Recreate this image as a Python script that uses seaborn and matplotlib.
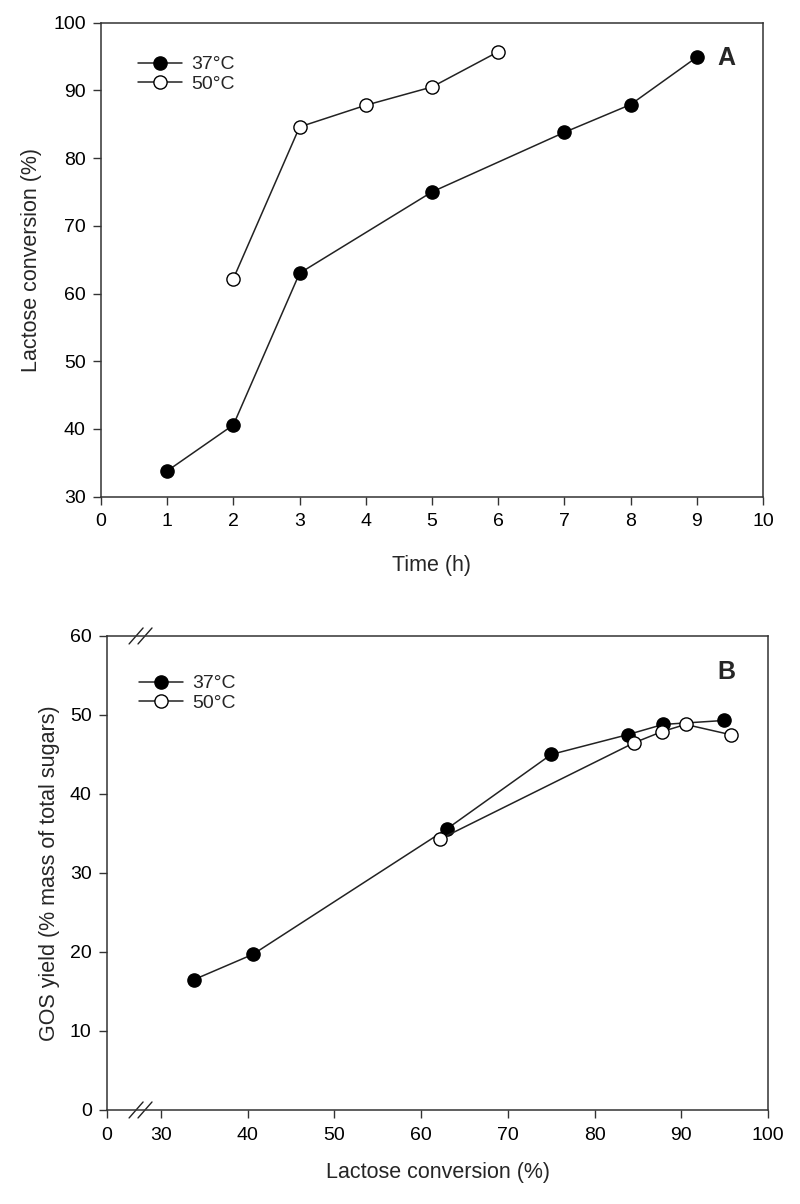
import numpy as np
import pandas as pd
import matplotlib
matplotlib.use("Agg")
import matplotlib.pyplot as plt
import seaborn as sns

# ---- data ----
time_37 = [1, 2, 3, 5, 7, 8, 9]
conv_37 = [33.8, 40.6, 63.0, 75.0, 83.8, 87.9, 94.9]
time_50 = [2, 3, 4, 5, 6]
conv_50 = [62.2, 84.6, 87.8, 90.5, 95.7]

gos_37 = [16.5, 19.7, 35.6, 45.0, 47.5, 48.8, 49.3]
gos_50 = [34.3, 46.5, 47.9, 48.8, 47.5]

labels = ["37°C", "50°C"]
xticks_a = list(range(0, 11))
yticks_a = [30, 40, 50, 60, 70, 80, 90, 100]
xticks_b = [0, 30, 40, 50, 60, 70, 80, 90, 100]
yticks_b = [0, 10, 20, 30, 40, 50, 60]

sns.set_style("ticks")
plt.rcParams['font.family'] = ['Liberation Sans', 'DejaVu Sans']
plt.rcParams['axes.edgecolor'] = '#333333'
plt.rcParams['xtick.color'] = '#333333'
plt.rcParams['ytick.color'] = '#333333'
plt.rcParams['xtick.labelcolor'] = 'black'
plt.rcParams['ytick.labelcolor'] = 'black'

fig = plt.figure(figsize=(8, 12.04), dpi=100)
axA = fig.add_axes([0.12625, 0.5875, 0.8275, 0.3937])
axB = fig.add_axes([0.13375, 0.0781, 0.82625, 0.3937])

line_kw = dict(color='#222222', linewidth=1.1, marker='o', markersize=9.5,
               markeredgecolor='black', markeredgewidth=1.0)

def draw(ax, x37, y37, x50, y50):
    sns.lineplot(x=x37, y=y37, ax=ax, label=labels[0], markerfacecolor='black', **line_kw)
    sns.lineplot(x=x50, y=y50, ax=ax, label=labels[1], markerfacecolor='white', **line_kw)

draw(axA, time_37, conv_37, time_50, conv_50)

# broken x scale for panel B
k = 6.23 / 30.0
def fwd(x):
    x = np.asarray(x, dtype=float)
    return np.where(x >= 30, x, 30 - (30 - x) * k)
def inv(y):
    y = np.asarray(y, dtype=float)
    return np.where(y >= 30, y, 30 - (30 - y) / k)
axB.set_xscale('function', functions=(fwd, inv))

draw(axB, conv_37, gos_37, conv_50, gos_50)

for ax in (axA, axB):
    for s in ax.spines.values():
        s.set_linewidth(1.1)
    ax.tick_params(axis='both', direction='out', length=6, width=1.0,
                   labelsize=14, top=False, right=False)
    ax.tick_params(axis='x', pad=6)
    ax.tick_params(axis='y', pad=5)

leg_kw = dict(loc='upper left', frameon=False, fontsize=14, handlelength=2.27,
              handletextpad=0.46, labelspacing=0.1, borderaxespad=0, borderpad=0)

axA.set_xlim(0, 10)
axA.set_ylim(30, 100)
axA.set_xticks(xticks_a)
axA.set_yticks(yticks_a)
axA.set_xlabel("Time (h)", fontsize=15.5, labelpad=18)
axA.set_ylabel("Lactose conversion (%)", fontsize=15.5, labelpad=8)
axA.text(0.945, 0.925, "A", transform=axA.transAxes, fontsize=18,
         fontweight='bold', ha='center', va='center')
axA.legend(bbox_to_anchor=(0.056, 0.93), **leg_kw)

axB.set_xlim(0, 100)
axB.set_ylim(0, 60)
axB.set_xticks(xticks_b)
axB.set_xticklabels([str(t) for t in xticks_b])
axB.set_yticks(yticks_b)
axB.set_xlabel("Lactose conversion (%)", fontsize=15.5, labelpad=13)
axB.set_ylabel("GOS yield (% mass of total sugars)", fontsize=15.5, labelpad=7)
axB.text(0.937, 0.925, "B", transform=axB.transAxes, fontsize=18,
         fontweight='bold', ha='center', va='center')
axB.legend(bbox_to_anchor=(0.048, 0.918), **leg_kw)

# axis-break marks on panel B
dx, dy = 7 / 661, 8 / 474
for yb in (0.0, 1.0):
    for cx in (0.044, 0.0575):
        axB.plot([cx - dx, cx + dx], [yb - dy, yb + dy], transform=axB.transAxes,
                 color='#222222', linewidth=1.0, clip_on=False)

fig.savefig("out.png", dpi=100, facecolor='white')
